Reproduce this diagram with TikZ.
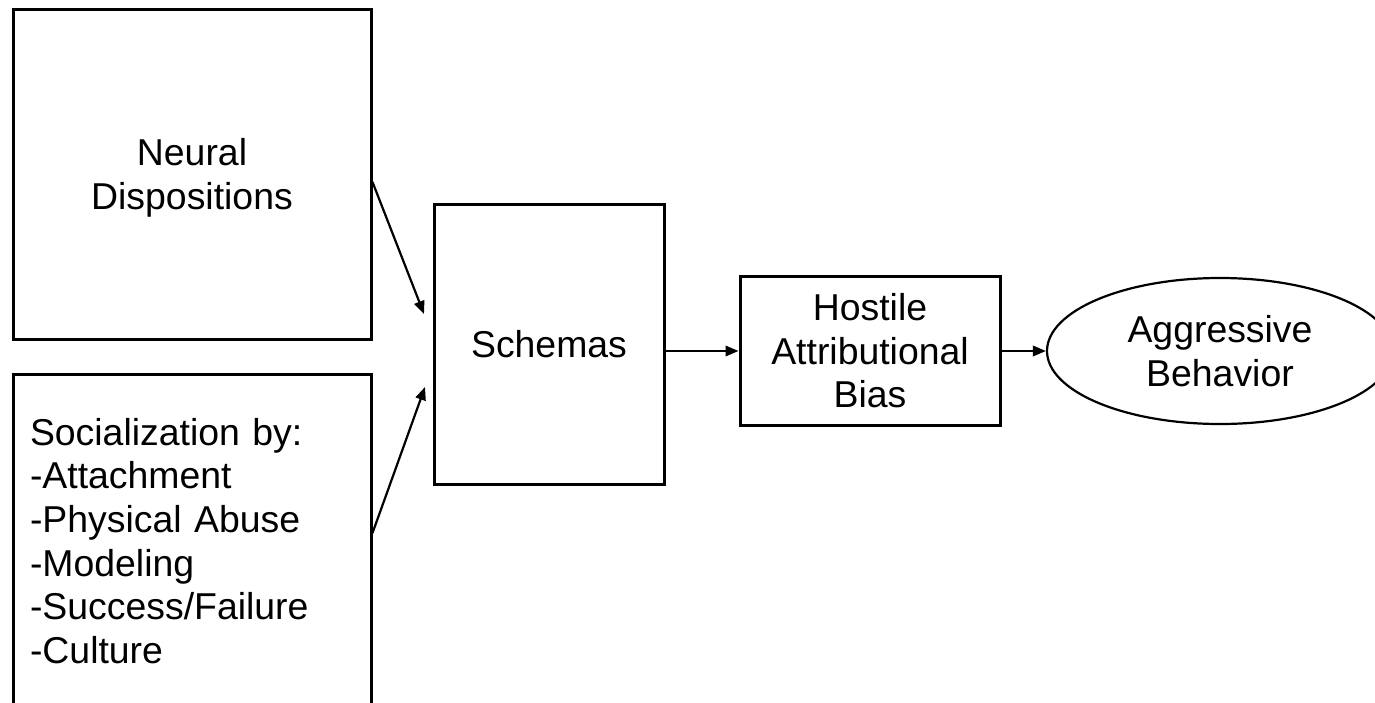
\documentclass[tikz,border=0pt]{standalone}
\usepackage{fontspec}
\setmainfont{Liberation Sans}
\usetikzlibrary{arrows.meta,shapes.geometric}

\tikzset{
  box/.style={draw, line width=1.5pt, rectangle, inner sep=0pt, align=center,
    font=\fontsize{18.7}{21.8}\selectfont},
  oval/.style={draw, line width=1.1pt, ellipse, inner sep=0pt, align=center,
    font=\fontsize{18.7}{21.8}\selectfont},
  link/.style={line width=1.1pt, -{Triangle[length=6.5pt,width=5.2pt]}}
}

\begin{document}
\begin{tikzpicture}[x=0.5pt,y=-0.5pt]
  \useasboundingbox (0,0) rectangle (1375,702);

  % Draw the two source boxes
  \node[box, minimum width=179pt, minimum height=165pt, text depth=0pt] (neural) at (192,174)
    {Neural\\Dispositions};
  \node[box, minimum width=179pt, minimum height=167pt, text width=162pt,
    align=left, inner xsep=8.5pt] (social) at (192,541)
    {Socialization by:\\-Attachment\\-Physical Abuse\\-Modeling\\-Success/Failure\\-Culture};

  % Draw the chain of boxes
  \node[box, minimum width=115pt, minimum height=140pt] (schemas) at (549,344) {Schemas};
  \node[box, minimum width=130pt, minimum height=74.5pt] (hostile) at (870,351)
    {Hostile\\Attributional\\Bias};
  \node[oval, minimum width=173pt, minimum height=73pt] (aggr) at (1220,351)
    {Aggressive\\Behavior};

  % Free ends of the two slanted arrows
  \coordinate (in1) at (424,314);
  \coordinate (in2) at (425,387);

  % Add the arrows
  \draw[link] ([yshift=-4pt]neural.east) -- (in1);
  \draw[link] ([yshift=4pt]social.east) -- (in2);
  \draw[link] (schemas.east |- hostile.west) -- (hostile.west);
  \draw[link] (hostile.east) -- (aggr.west);

\end{tikzpicture}
\end{document}
